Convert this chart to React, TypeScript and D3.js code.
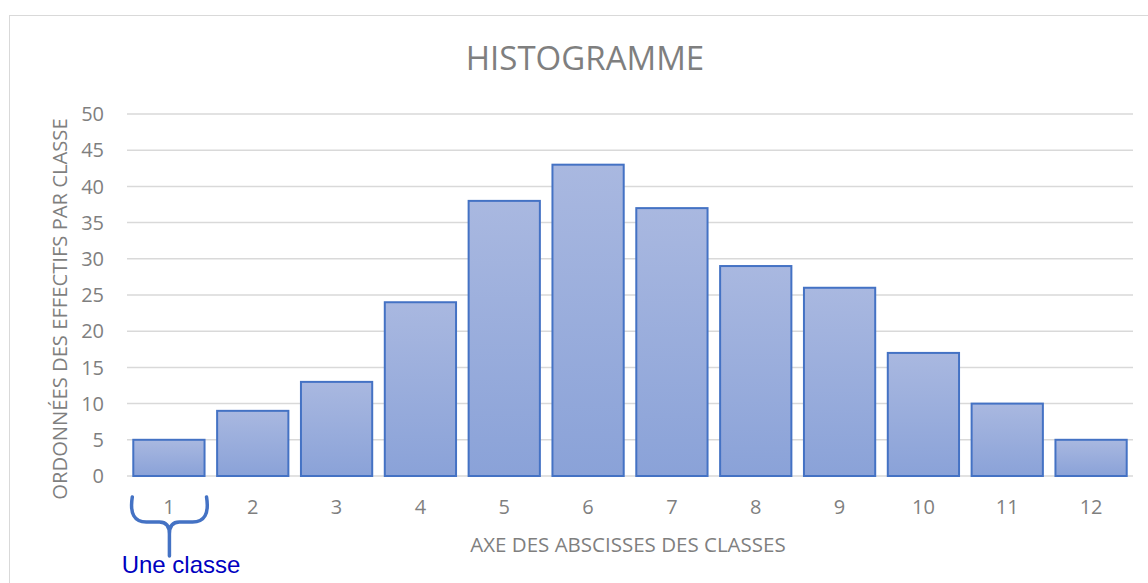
import { useEffect, useRef } from 'react';
import * as d3 from 'd3';

const classes = ['1', '2', '3', '4', '5', '6', '7', '8', '9', '10', '11', '12'];
const effectifs = [5, 9, 13, 24, 38, 43, 37, 29, 26, 17, 10, 5];
const yTicks = [0, 5, 10, 15, 20, 25, 30, 35, 40, 45, 50];

const W = 1148;
const H = 583;

const App = () => {
  const svgRef = useRef<SVGSVGElement | null>(null);

  useEffect(() => {
    const svg = d3.select(svgRef.current);
    svg.selectAll('*').remove();

    const margin = { top: 114, right: 15, bottom: 107, left: 127 };
    const font = "'Open Sans', 'Liberation Sans', sans-serif";

    // outer chart frame
    svg.append('rect')
      .attr('x', 9.5).attr('y', 15.5)
      .attr('width', W + 10).attr('height', H + 10)
      .attr('fill', 'white')
      .attr('stroke', '#d9d9d9');

    const x = d3.scaleBand()
      .domain(classes)
      .range([margin.left, W - margin.right])
      .paddingInner(0.15)
      .paddingOuter(0.075);

    const y = d3.scaleLinear()
      .domain([0, 50])
      .range([H - margin.bottom, margin.top]);

    // gradient for bars
    const defs = svg.append('defs');
    const grad = defs.append('linearGradient')
      .attr('id', 'barGrad')
      .attr('x1', 0).attr('y1', 0).attr('x2', 0).attr('y2', 1);
    grad.append('stop').attr('offset', '0%').attr('stop-color', '#a9b8e0');
    grad.append('stop').attr('offset', '100%').attr('stop-color', '#8aa2d8');

    // grid
    svg.append('g')
      .selectAll('line')
      .data(yTicks)
      .join('line')
      .attr('x1', margin.left)
      .attr('x2', W - margin.right)
      .attr('y1', d => y(d))
      .attr('y2', d => y(d))
      .attr('stroke', '#d9d9d9')
      .attr('stroke-width', 1.5);

    // y tick labels
    svg.append('g')
      .selectAll('text')
      .data(yTicks)
      .join('text')
      .attr('x', 104)
      .attr('y', d => y(d))
      .attr('dy', '0.36em')
      .attr('text-anchor', 'end')
      .attr('font-family', font)
      .attr('font-size', 20)
      .attr('fill', '#7f7f7f')
      .text(d => d);

    // bars
    svg.append('g')
      .selectAll('rect')
      .data(effectifs)
      .join('rect')
      .attr('x', (d, i) => x(classes[i])!)
      .attr('y', d => y(d))
      .attr('width', x.bandwidth())
      .attr('height', d => y(0) - y(d))
      .attr('fill', 'url(#barGrad)')
      .attr('stroke', '#4472c4')
      .attr('stroke-width', 2);

    // x tick labels
    svg.append('g')
      .selectAll('text')
      .data(classes)
      .join('text')
      .attr('x', d => x(d)! + x.bandwidth() / 2)
      .attr('y', 514)
      .attr('text-anchor', 'middle')
      .attr('font-family', font)
      .attr('font-size', 20)
      .attr('fill', '#7f7f7f')
      .text(d => d);

    // title
    svg.append('text')
      .attr('x', 585)
      .attr('y', 70)
      .attr('text-anchor', 'middle')
      .attr('font-family', font)
      .attr('font-size', 33)
      .attr('fill', '#7f7f7f')
      .text('HISTOGRAMME');

    // axis titles
    svg.append('text')
      .attr('x', 628)
      .attr('y', 552)
      .attr('text-anchor', 'middle')
      .attr('font-family', font)
      .attr('font-size', 20.5)
      .attr('fill', '#7f7f7f')
      .text('AXE DES ABSCISSES DES CLASSES');

    svg.append('text')
      .attr('transform', 'translate(67,309) rotate(-90)')
      .attr('text-anchor', 'middle')
      .attr('font-family', font)
      .attr('font-size', 20.2)
      .attr('fill', '#7f7f7f')
      .text('ORDONNÉES DES EFFECTIFS PAR CLASSE');

    // brace under class 1
    const bx0 = x('1')! - 1;
    const bx1 = x('1')! + x.bandwidth() + 2;
    const mid = (bx0 + bx1) / 2;
    const top = 497;
    const base = 522;
    const tip = 556;
    const brace = d3.path();
    brace.moveTo(bx0, top);
    brace.quadraticCurveTo(bx0 - 4, base, bx0 + 14, base);
    brace.lineTo(mid - 10, base);
    brace.quadraticCurveTo(mid, base, mid, base + 12);
    brace.lineTo(mid, tip);
    brace.moveTo(bx1, top);
    brace.quadraticCurveTo(bx1 + 4, base, bx1 - 14, base);
    brace.lineTo(mid + 10, base);
    brace.quadraticCurveTo(mid, base, mid, base + 12);
    svg.append('path')
      .attr('d', brace.toString())
      .attr('fill', 'none')
      .attr('stroke', '#4472c4')
      .attr('stroke-width', 3.5)
      .attr('stroke-linecap', 'round');

    svg.append('text')
      .attr('x', 181)
      .attr('y', 573)
      .attr('text-anchor', 'middle')
      .attr('font-family', "'Liberation Sans Narrow', 'Liberation Sans', sans-serif")
      .attr('font-size', 24)
      .attr('fill', '#0000c0')
      .text('Une classe');
  }, []);

  return (
    <svg
      ref={svgRef}
      width={W}
      height={H}
      style={{ position: 'absolute', left: 0, top: 0, background: 'white' }}
    />
  );
};

export default App;
